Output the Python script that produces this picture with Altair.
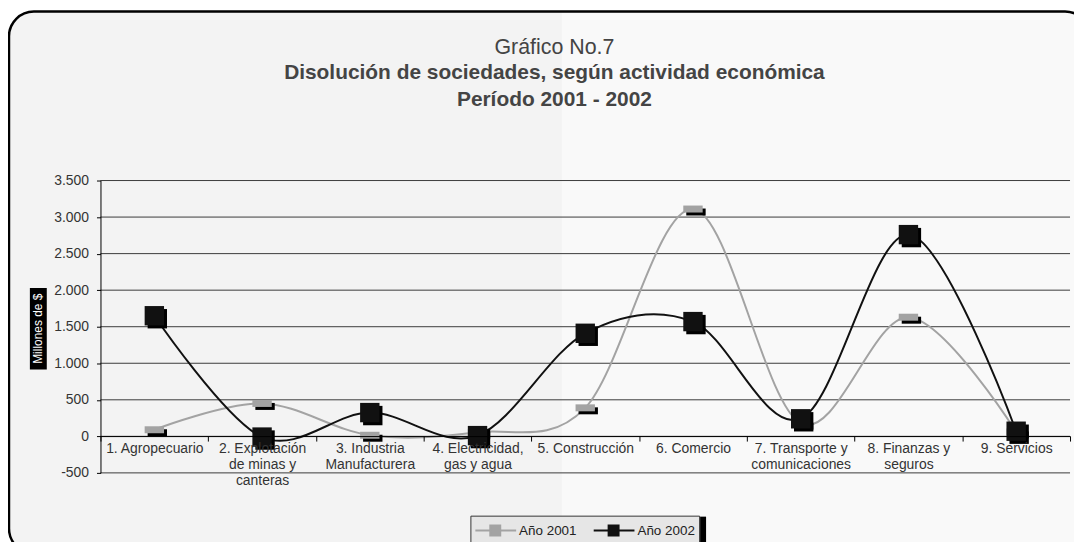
import altair as alt
import pandas as pd

categorias = [
    "1. Agropecuario",
    "2. Explotación|de minas y|canteras",
    "3. Industria|Manufacturera",
    "4. Electricidad,|gas y agua",
    "5. Construcción",
    "6. Comercio",
    "7. Transporte y|comunicaciones",
    "8. Finanzas y|seguros",
    "9. Servicios",
]
series = ["Año 2001", "Año 2002"]
valores_2001 = [90, 450, 15, 55, 390, 3110, 180, 1630, 60]
valores_2002 = [1650, -10, 325, 10, 1410, 1570, 240, 2760, 70]
y_ticks = [-500, 0, 500, 1000, 1500, 2000, 2500, 3000, 3500]

FONT = "Liberation Sans"
GRIS = "#a3a3a3"
NEGRO = "#111111"
DASH = "M-1,-0.36H1V0.36H-1Z"
LEG_SYM = "M-1,0H0.5M1.5,0H3.1M0.5,-0.5H1.5V0.5H0.5Z"

rows = []
for s, vals in zip(series, [valores_2001, valores_2002]):
    for c, v in zip(categorias, vals):
        rows.append({"categoria": c, "serie": s, "valor": v})
df = pd.DataFrame(rows)
df_grid = pd.DataFrame({"valor": y_ticks})
dummy = pd.DataFrame({"k": [0]})

x = alt.X(
    "categoria:N",
    sort=categorias,
    scale=alt.Scale(type="band", paddingInner=0, paddingOuter=0),
    axis=alt.Axis(
        title=None, labelAngle=0, offset=-37, domainColor="#000", tickColor="#000",
        tickBand="extent", tickSize=5, labelFont=FONT, labelFontSize=14,
        labelColor="#333", labelLineHeight=16.5, labelPadding=0, labelBaseline="top",
        labelExpr="split(datum.label, '|')", labelLimit=0, grid=False, zindex=1,
    ),
)
y = alt.Y(
    "valor:Q",
    scale=alt.Scale(domain=[-500, 3500], nice=False, zero=False),
    axis=alt.Axis(
        title=None, values=y_ticks, grid=False, zindex=1,
        domainColor="#000", tickColor="#000", tickSize=4, labelPadding=8,
        labelFont=FONT, labelFontSize=14, labelColor="#333",
        labelExpr="replace(replace(format(datum.value, ','), ',', '.'), '\u2212', '-')",
    ),
)

serie_scale = alt.Scale(domain=series, range=[GRIS, NEGRO])
leg = alt.Legend(
    title=None, orient="none", legendX=372, legendY=337, direction="horizontal",
    symbolType=LEG_SYM, symbolSize=400, symbolStrokeWidth=2, labelFont=FONT,
    labelFontSize=13.5, labelColor="#222", labelOffset=23, columnPadding=13,
    padding=4, fillColor="#e6e6e6", strokeColor="#333", zindex=1,
)

frame_fill = alt.Chart(dummy).mark_rect(fill="#f3f3f3", cornerRadius=25).encode(
    x=alt.value(-92), x2=alt.value(995), y=alt.value(-170), y2=alt.value(375))
light = alt.Chart(dummy).mark_rect(fill="#f9f9f9").encode(
    x=alt.value(464), x2=alt.value(995), y=alt.value(-169), y2=alt.value(374))
frame_stroke = alt.Chart(dummy).mark_rect(
    filled=False, stroke="#000", strokeWidth=2.5, cornerRadius=25).encode(
    x=alt.value(-92), x2=alt.value(995), y=alt.value(-170), y2=alt.value(375))
ytitle_box = alt.Chart(dummy).mark_rect(fill="#000").encode(
    x=alt.value(-71), x2=alt.value(-54), y=alt.value(108), y2=alt.value(190))
ytitle_text = alt.Chart(dummy).mark_text(
    text="Millones de $", color="#fff", font=FONT, fontSize=12, angle=270,
    align="center", baseline="middle").encode(x=alt.value(-62.5), y=alt.value(149))
leg_bar = alt.Chart(dummy).mark_rect(fill="#000").encode(
    x=alt.value(603), x2=alt.value(609), y=alt.value(338), y2=alt.value(364))

grid = alt.Chart(df_grid).mark_rule(color="#3a3a3a", strokeWidth=1).encode(y=y)
lines = alt.Chart(df).mark_line(interpolate="cardinal", strokeWidth=2).encode(
    x=x, y=y, stroke=alt.Stroke("serie:N", scale=serie_scale, legend=leg))

f2001 = alt.datum.serie == series[0]
f2002 = alt.datum.serie == series[1]
sh_2001 = alt.Chart(df).transform_filter(f2001).mark_point(
    shape=DASH, filled=True, color="#000", size=380, opacity=1, xOffset=3, yOffset=3
).encode(x=x, y=y)
mk_2001 = alt.Chart(df).transform_filter(f2001).mark_point(
    shape=DASH, filled=True, color=GRIS, size=380, opacity=1).encode(x=x, y=y)
sh_2002 = alt.Chart(df).transform_filter(f2002).mark_point(
    shape="square", filled=True, color="#000", size=380, opacity=1, xOffset=3, yOffset=3
).encode(x=x, y=y)
mk_2002 = alt.Chart(df).transform_filter(f2002).mark_point(
    shape="square", filled=True, color=NEGRO, size=380, opacity=1).encode(x=x, y=y)
legend_layer = alt.Chart(df).mark_point(filled=True, size=0, opacity=1).encode(
    x=x, y=y, fill=alt.Fill("serie:N", scale=serie_scale, legend=leg))

chart = alt.layer(
    frame_fill, light, ytitle_box, ytitle_text, grid, lines,
    sh_2001, mk_2001, sh_2002, mk_2002, legend_layer, leg_bar, frame_stroke
).properties(
    width=975, height=294,
    autosize=alt.AutoSizeParams(type="none"),
    padding={"left": 93, "top": 172, "right": 4, "bottom": 68},
    background="#ffffff",
    title=alt.Title(
        text="Gráfico No.7",
        subtitle=["Disolución de sociedades, según actividad económica", "Período 2001 - 2002"],
        anchor="middle", frame="group", dx=-31, offset=-100, zindex=1,
        font=FONT, fontSize=21.5, fontWeight="normal", color="#444",
        subtitleFont=FONT, subtitleFontSize=21, subtitleFontWeight="bold",
        subtitleColor="#444", subtitleLineHeight=27, subtitlePadding=3,
    ),
).configure_view(stroke=None)

chart.save("out.html", embed_options={"renderer": "svg", "actions": False})
